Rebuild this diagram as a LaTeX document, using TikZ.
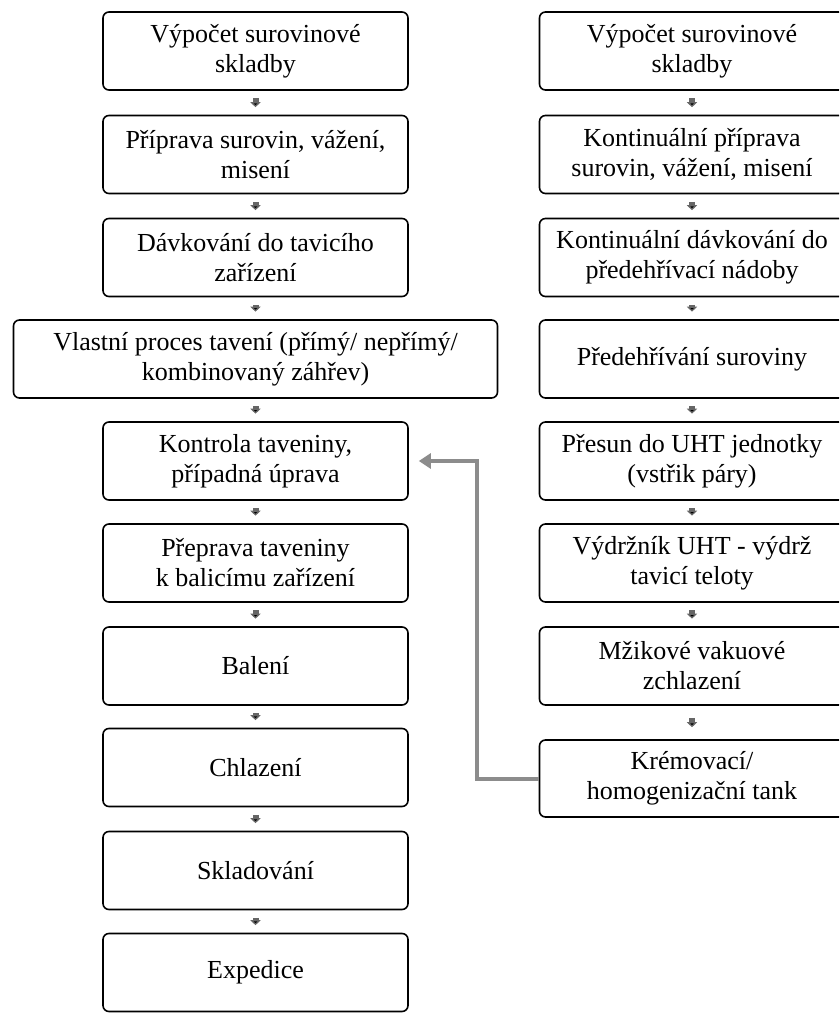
\documentclass[tikz,border=0pt]{standalone}
\usepackage{fontspec}
\setmainfont{Liberation Serif}
\usetikzlibrary{arrows.meta}
\begin{document}
\begin{tikzpicture}[x=1pt,y=-1pt]
\newcommand{\xleft}{255.5}
\newcommand{\xright}{692}
\tikzstyle{stage}=[draw,line width=1.6pt,rounded corners=6pt,minimum width=305pt,minimum height=78pt,align=center,font=\fontsize{26}{30}\selectfont,inner sep=1pt]
\tikzstyle{wide}=[stage,minimum width=484pt]
\tikzstyle{flow}=[draw=black!60,line width=6pt,-{Triangle[length=5pt,width=10pt]},shorten <=7.5pt,shorten >=7.5pt]
\tikzstyle{feedback}=[draw=black!45,line width=4pt,-{Triangle[length=12pt,width=15pt]},shorten >=10pt]
\useasboundingbox (0,0) rectangle (839,1023);
\clip (0,0) rectangle (839,1023);
% left column
\node[stage] (l1) at (\xleft,51) {Výpočet surovinové\\skladby};
\node[stage] (l2) at (\xleft,154.5) {Příprava surovin, vážení,\\misení};
\node[stage] (l3) at (\xleft,257.5) {Dávkování do tavicího\\zařízení};
\node[wide] (l4) at (\xleft,359) {Vlastní proces tavení (přímý/ nepřímý/\\kombinovaný záhřev)};
\node[stage] (l5) at (\xleft,461) {Kontrola taveniny,\\případná úprava};
\node[stage] (l6) at (\xleft,563) {Přeprava taveniny\\k balicímu zařízení};
\node[stage] (l7) at (\xleft,666) {Balení};
\node[stage] (l8) at (\xleft,767.5) {Chlazení};
\node[stage] (l9) at (\xleft,870.5) {Skladování};
\node[stage] (l10) at (\xleft,972.5) {Expedice};
% right column
\node[stage] (r1) at (\xright,51) {Výpočet surovinové\\skladby};
\node[stage] (r2) at (\xright,154.5) {Kontinuální příprava\\surovin, vážení, misení};
\node[stage] (r3) at (\xright,257.5) {Kontinuální dávkování do\\předehřívací nádoby};
\node[stage] (r4) at (\xright,359) {Předehřívání suroviny};
\node[stage] (r5) at (\xright,461) {Přesun do UHT jednotky\\(vstřik páry)};
\node[stage] (r6) at (\xright,563) {Výdržník UHT - výdrž\\tavicí teloty};
\node[stage] (r7) at (\xright,666) {Mžikové vakuové\\zchlazení};
\node[stage,minimum height=77pt] (r8) at (\xright,778.5) {Krémovací/\\homogenizační tank};
\draw[flow] (l1) edge (l2);
\draw[flow] (l2) edge (l3);
\draw[flow] (l3) edge (l4);
\draw[flow] (l4) edge (l5);
\draw[flow] (l5) edge (l6);
\draw[flow] (l6) edge (l7);
\draw[flow] (l7) edge (l8);
\draw[flow] (l8) edge (l9);
\draw[flow] (l9) edge (l10);
\draw[flow] (r1) edge (r2);
\draw[flow] (r2) edge (r3);
\draw[flow] (r3) edge (r4);
\draw[flow] (r4) edge (r5);
\draw[flow] (r5) edge (r6);
\draw[flow] (r6) edge (r7);
\draw[flow,shorten <=12pt,shorten >=12pt] (r7) edge (r8);
\draw[feedback] (r8.west) -- ++(-62,0) |- (l5.east);
\end{tikzpicture}
\end{document}
